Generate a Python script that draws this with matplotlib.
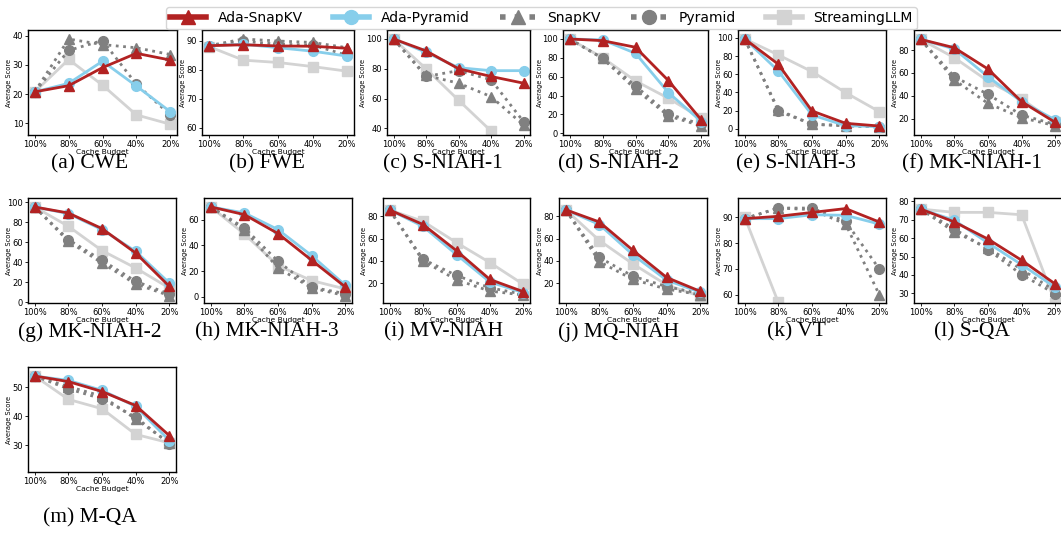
import matplotlib
matplotlib.use("Agg")
import matplotlib.pyplot as plt
from matplotlib.lines import Line2D

budgets = ["100%", "80%", "60%", "40%", "20%"]
tasks = ["(a) CWE", "(b) FWE", "(c) S-NIAH-1", "(d) S-NIAH-2", "(e) S-NIAH-3",
         "(f) MK-NIAH-1", "(g) MK-NIAH-2", "(h) MK-NIAH-3", "(i) MV-NIAH",
         "(j) MQ-NIAH", "(k) VT", "(l) S-QA", "(m) M-QA"]

ada_snapkv = [
    [20.8, 22.9, 29.1, 34.0, 31.7],
    [88.3, 88.6, 88.2, 88.1, 87.4],
    [100, 92.0, 80.0, 74.8, 70.3],
    [100, 98.2, 91.2, 55.8, 14.1],
    [98.9, 71.0, 19.5, 5.9, 2.9],
    [89.3, 82.0, 63.4, 34.9, 16.8],
    [95.3, 89.3, 73.7, 49.3, 16.0],
    [69.9, 63.9, 49.2, 28.5, 7.8],
    [85.8, 72.7, 49.1, 23.2, 12.2],
    [86.0, 75.0, 49.4, 25.0, 12.5],
    [89.5, 90.4, 91.9, 93.4, 88.2],
    [75.8, 68.8, 59.5, 48.0, 35.1],
    [53.8, 51.9, 48.5, 43.7, 33.4],
]
ada_pyramid = [
    [20.8, 23.7, 31.3, 22.8, 14.0],
    [88.3, 88.8, 87.6, 86.4, 84.7],
    [100, 91.0, 80.7, 78.7, 78.7],
    [100, 99.0, 84.8, 43.1, 12.4],
    [98.9, 63.6, 15.1, 3.3, 2.2],
    [89.3, 80.9, 56.7, 34.9, 18.9],
    [95.3, 88.7, 72.7, 51.0, 19.3],
    [69.9, 65.2, 52.3, 32.1, 9.1],
    [85.8, 71.0, 45.6, 20.9, 11.3],
    [86.0, 72.7, 45.4, 22.6, 11.6],
    [89.5, 89.5, 91.0, 90.8, 87.4],
    [75.8, 69.7, 57.4, 45.6, 33.3],
    [53.8, 52.3, 48.9, 43.4, 31.7],
]
snapkv = [
    [20.8, 38.9, 37.0, 35.9, 33.6],
    [88.3, 90.6, 89.9, 89.4, 87.6],
    [100, 75.5, 70.3, 61.3, 42.2],
    [100, 79.5, 46.6, 18.4, 7.8],
    [98.9, 20.6, 4.8, 3.3, 1.8],
    [89.3, 53.8, 33.4, 20.9, 13.9],
    [95.3, 61.0, 39.3, 18.3, 6.7],
    [69.9, 52.3, 22.5, 7.0, 1.0],
    [85.8, 39.8, 22.9, 12.7, 9.2],
    [86.0, 39.2, 23.2, 14.5, 9.5],
    [89.5, 93.6, 93.0, 87.4, 60.0],
    [75.8, 63.4, 54.7, 43.0, 31.3],
    [53.8, 50.2, 46.9, 39.1, 30.9],
]
pyramid = [
    [20.8, 35.0, 38.4, 23.4, 12.9],
    [88.3, 89.8, 88.8, 88.5, 85.0],
    [100, 74.8, 78.7, 72.6, 44.5],
    [100, 79.5, 50.2, 20.5, 9.5],
    [98.9, 19.5, 4.8, 3.3, 1.8],
    [89.3, 56.7, 41.3, 23.2, 15.0],
    [95.3, 62.7, 42.0, 21.0, 8.3],
    [69.9, 53.6, 27.7, 7.5, 2.6],
    [85.8, 41.3, 26.8, 15.7, 9.8],
    [86.0, 43.0, 26.1, 16.8, 10.4],
    [89.5, 93.6, 93.6, 88.4, 70.0],
    [75.8, 65.0, 53.8, 40.2, 29.8],
    [53.8, 49.4, 46.0, 39.7, 30.6],
]
streamingllm = [
    [20.8, 31.9, 23.1, 12.9, 9.7],
    [88.0, 83.3, 82.5, 81.1, 79.5],
    [100, 80.0, 58.9, 38.2, 10.0],
    [100, 80.2, 55.5, 37.1, 15.9],
    [98.9, 81.3, 62.9, 39.7, 18.8],
    [89.3, 73.3, 52.9, 37.2, 16.8],
    [95.3, 76.0, 51.7, 34.3, 14.3],
    [69.9, 48.9, 24.3, 12.7, 6.2],
    [85.8, 75.6, 56.4, 38.4, 18.8],
    [86.0, 58.3, 37.2, 18.3, 8.0],
    [90.0, 57.0, 40.0, 30.0, 20.0],
    [75.8, 74.0, 74.0, 72.7, 25.0],
    [53.8, 45.8, 42.6, 33.8, 30.9],
]
ylims = [(6, 42), (57.5, 93.7), (35.5, 106), (-1.8, 109.5), (-7, 108.8),
         (5.8, 97.5), (-0.7, 104.3), (-4.7, 76.8), (2, 96.6), (2, 96.6),
         (56.8, 97.5), (24.8, 81.8), (20.9, 56.9)]

W, H = 1061, 533
fig = plt.figure(figsize=(W / 100, H / 100), dpi=100)

lefts = [[28, 202, 387, 563, 738, 914], [28, 204, 383, 559, 738, 914], [28]]
rights = [[177, 354, 530, 708, 886, 1062], [176, 352, 530, 707, 886, 1062], [176]]
tops = [30, 198, 367]
bottoms = [135, 303, 472]
cap_x = [90, 267, 443, 619, 796, 972]
cap_y = [164, 332, 518]
ylabel_off = {2: 21, 3: 20}

series = [
    (streamingllm, dict(color="lightgray", ls="-", marker="s", ms=6.5, lw=2), "StreamingLLM"),
    (snapkv, dict(color="gray", ls=":", marker="^", ms=7, lw=2), "SnapKV"),
    (pyramid, dict(color="gray", ls=":", marker="o", ms=7, lw=2), "Pyramid"),
    (ada_pyramid, dict(color="#87CEEB", ls="-", marker="o", ms=7, lw=2), "Ada-Pyramid"),
    (ada_snapkv, dict(color="#B22222", ls="-", marker="^", ms=7, lw=2), "Ada-SnapKV"),
]

x = list(range(len(budgets)))
for i, task in enumerate(tasks):
    r, c = divmod(i, 6)
    l, rt = lefts[r][c], rights[r][c]
    t, b = tops[r], bottoms[r]
    ax = fig.add_axes([l / W, 1 - b / H, (rt - l) / W, (b - t) / H])
    for data, kw, name in series:
        ax.plot(x, data[i], label=name, **kw)
    ax.set_ylim(*ylims[i])
    ax.set_xlim(-0.2, 4.2)
    ax.set_xticks(x)
    ax.set_xticklabels(budgets)
    ax.tick_params(labelsize=6, length=2, width=0.6, pad=1.5)
    ax.set_xlabel("Cache Budget", fontsize=5.4, labelpad=0)
    ax.set_ylabel("Average Score", fontsize=4.8)
    ax.yaxis.set_label_coords(-ylabel_off.get(i, 16) / (rt - l), 0.5)
    for s in ax.spines.values():
        s.set_linewidth(1.0)
        s.set_color("black")
    fig.text(cap_x[c] / W, 1 - cap_y[r] / H, task, ha="center", va="center",
             fontsize=15.5, family="Liberation Serif")

handles = [
    Line2D([], [], color="#B22222", lw=4, marker="^", ms=10),
    Line2D([], [], color="#87CEEB", lw=4, marker="o", ms=10),
    Line2D([], [], color="gray", lw=4, ls=":", marker="^", ms=10),
    Line2D([], [], color="gray", lw=4, ls=":", marker="o", ms=10),
    Line2D([], [], color="lightgray", lw=4, marker="s", ms=10),
]
labels = ["Ada-SnapKV", "Ada-Pyramid", "SnapKV", "Pyramid", "StreamingLLM"]
fig.legend(handles, labels, loc="upper center", bbox_to_anchor=(541.5 / W, 1.0),
           ncol=5, fontsize=10, handlelength=2.6, handletextpad=0.8,
           columnspacing=2.2, frameon=True, borderpad=0.3, edgecolor="#cccccc")

fig.savefig("out.png", dpi=100)
